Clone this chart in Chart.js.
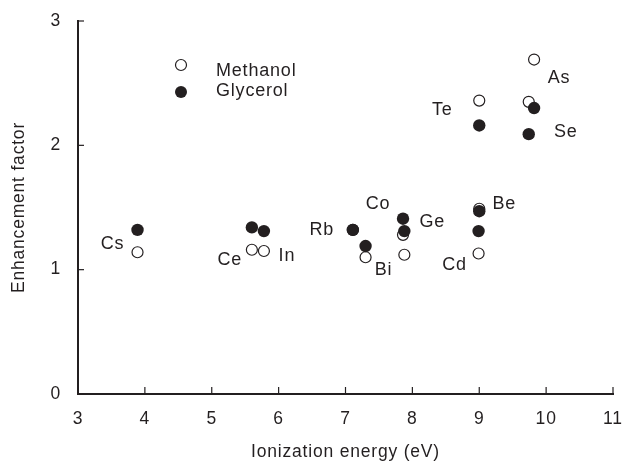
<!DOCTYPE html>
<html>
<head>
<meta charset="utf-8">
<script src="https://cdn.jsdelivr.net/npm/chart.js@4.4.0/dist/chart.umd.min.js"></script>
<style>
body { margin: 0; background: #fff; }
</style>
</head>
<body>
<canvas id="myChart" width="624" height="461"></canvas>
<script>
var elements = ["Cs", "Ce", "In", "Rb", "Bi", "Co", "Ge", "Cd", "Be", "Te", "Se", "As"];
var ionization = [3.89, 5.60, 5.78, 7.11, 7.30, 7.86, 7.88, 8.99, 9.00, 9.00, 9.74, 9.82];
var methanol = [1.14, 1.16, 1.15, 1.32, 1.10, 1.28, 1.12, 1.13, 1.49, 2.36, 2.35, 2.69];
var glycerol = [1.32, 1.34, 1.31, 1.32, 1.19, 1.41, 1.31, 1.31, 1.47, 2.16, 2.09, 2.30];

// where each element name sits, in px from its methanol point
var labelOffsets = [[-25, -8], [-22, 10], [23, 5], [-31, 0], [18, 13], [-25, -31],
                    [28, -33], [-24, 12], [25, -5], [-37, 9], [37, 30], [25, 18]];

var ink = "#231f20";
var family = "'Liberation Sans', Arial, Helvetica, sans-serif";

function points(ys) {
    return ionization.map(function (x, i) { return { x: x, y: ys[i] }; });
}

function spacing(chart) {
    chart.ctx.letterSpacing = "0.8px";
}

//ticks inside the axes, element names, legend
var extras = {
    id: "extras",
    beforeUpdate: spacing,
    beforeDraw: spacing,
    afterDatasetsDraw: function (chart) {
        var c = chart.ctx, xs = chart.scales.x, ys = chart.scales.y, a = chart.chartArea;
        c.save();
        c.strokeStyle = ink;
        c.lineWidth = 1.2;
        xs.ticks.forEach(function (t) {
            var px = xs.getPixelForValue(t.value);
            c.beginPath(); c.moveTo(px, a.bottom); c.lineTo(px, a.bottom - 7); c.stroke();
        });
        ys.ticks.forEach(function (t) {
            var py = ys.getPixelForValue(t.value);
            c.beginPath(); c.moveTo(a.left, py); c.lineTo(a.left + 6, py); c.stroke();
        });

        c.fillStyle = ink;
        c.font = "18px " + family;
        c.letterSpacing = "0.8px";
        c.textAlign = "center";
        c.textBaseline = "middle";
        elements.forEach(function (el, i) {
            var px = xs.getPixelForValue(ionization[i]) + labelOffsets[i][0];
            var py = ys.getPixelForValue(methanol[i]) + labelOffsets[i][1];
            c.fillText(el, px, py);
        });

        // legend
        var lx = a.left + 103, ly = a.top + 44;
        c.beginPath();
        c.arc(lx, ly, 5.5, 0, Math.PI * 2);
        c.fillStyle = "#fff"; c.fill();
        c.lineWidth = 1.2; c.stroke();
        c.beginPath();
        c.arc(lx, ly + 27, 6, 0, Math.PI * 2);
        c.fillStyle = ink; c.fill();
        c.textAlign = "left";
        c.fillText("Methanol", lx + 35, ly + 6);
        c.fillText("Glycerol", lx + 35, ly + 26);
        c.restore();
    }
};

var ctx = document.getElementById("myChart").getContext("2d");
var chart = new Chart(ctx, {
    type: "scatter",
    data: {
        datasets: [
            {
                label: "Methanol",
                data: points(methanol),
                backgroundColor: "#fff",
                borderColor: ink,
                borderWidth: 1.2,
                pointRadius: 5.5,
                order: 1
            },
            {
                label: "Glycerol",
                data: points(glycerol),
                backgroundColor: ink,
                borderColor: ink,
                borderWidth: 0,
                pointRadius: 6.2,
                order: 0
            }
        ]
    },
    options: {
        responsive: false,
        animation: false,
        layout: { padding: { top: 21, right: 11, left: 0, bottom: 0 } },
        plugins: {
            legend: { display: false },
            tooltip: { enabled: false }
        },
        scales: {
            x: {
                type: "linear",
                min: 3,
                max: 11,
                afterFit: function (s) {
                    s.height = 67;
                    s.paddingLeft = 0;
                    s.paddingRight = 0;
                },
                grid: { display: false, drawTicks: false },
                border: { display: true, color: ink, width: 2 },
                ticks: {
                    stepSize: 1,
                    padding: 15,
                    color: ink,
                    font: { family: family, size: 17.5, lineHeight: 1.2 }
                },
                title: {
                    display: true,
                    text: "Ionization energy (eV)",
                    color: ink,
                    padding: { top: 0, bottom: 0 },
                    font: { family: family, size: 17.5, lineHeight: 1 }
                }
            },
            y: {
                type: "linear",
                min: 0,
                max: 3,
                afterFit: function (s) {
                    s.width = 78;
                    s.paddingTop = 0;
                    s.paddingBottom = 0;
                },
                grid: { display: false, drawTicks: false },
                border: { display: true, color: ink, width: 2 },
                ticks: {
                    stepSize: 1,
                    padding: 17,
                    color: ink,
                    font: { family: family, size: 17.5, lineHeight: 1.2 }
                },
                title: {
                    display: true,
                    text: "Enhancement factor",
                    color: ink,
                    padding: { top: 10, bottom: 0 },
                    font: { family: family, size: 17.5, lineHeight: 1 }
                }
            }
        }
    },
    plugins: [extras]
});
</script>
</body>
</html>
